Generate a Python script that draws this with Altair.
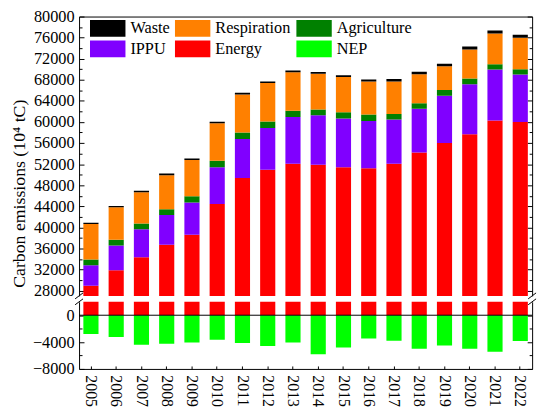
import altair as alt
import pandas as pd

years = [str(y) for y in range(2005, 2023)]
energy = [28900, 31850, 34350, 36700, 38600, 44450, 49350, 50950, 52050,
          51900, 51400, 51200, 52050, 54200, 56000, 57650, 60300, 60000]
ippu = [3900, 4700, 5300, 5650, 6100, 6950, 7400, 7900, 8900,
        9350, 9250, 9000, 8400, 8300, 8950, 9500, 9650, 9000]
agriculture = [1100, 1100, 1100, 1100, 1200, 1250, 1250, 1250, 1200,
               1100, 1200, 1200, 1050, 1050, 1100, 1100, 1000, 1000]
respiration = [6750, 6150, 5900, 6450, 6900, 7100, 7200, 7300, 7300,
               6800, 6700, 6300, 6200, 5500, 4500, 5500, 5850, 6000]
waste = [250, 250, 300, 300, 250, 300, 350, 300, 300,
         350, 300, 350, 450, 500, 500, 550, 550, 550]
nep = [-2800, -3250, -4400, -4250, -4050, -3650, -4150, -4600, -4050,
       -5800, -4800, -3450, -3800, -5000, -4500, -5000, -5450, -3850]

legend_order = ["Waste", "Respiration", "Agriculture", "IPPU", "Energy", "NEP"]
colors = ["#000000", "#FF8000", "#008000", "#8000FF", "#FF0000", "#00FF00"]
stack_order = {"Energy": 0, "IPPU": 1, "Agriculture": 2, "Respiration": 3, "Waste": 4, "NEP": 5}
series = {"Energy": energy, "IPPU": ippu, "Agriculture": agriculture,
          "Respiration": respiration, "Waste": waste, "NEP": nep}

rows = []
for cat, vals in series.items():
    for yr, v in zip(years, vals):
        rows.append({"year": yr, "category": cat, "value": v, "order": stack_order[cat]})
df = pd.DataFrame(rows)

FONT = "Liberation Serif"
YLAB, XLAB = 16.5, 16
W, HT, HB = 459, 283, 68
TOP_DOM = [27000, 80000]
BOT_DOM = [-8000, 2000]
top_major = list(range(28000, 80001, 4000))
top_minor = list(range(30000, 80000, 4000))
bot_major = [0, -4000, -8000]
bot_minor = [-2000, -6000]

xscale = alt.Scale(paddingInner=0.4, paddingOuter=0.17)


def bars(domain, xaxis, yaxis, legend):
    return alt.Chart(df).mark_bar(clip=True).encode(
        x=alt.X("year:N", sort=years, scale=xscale, axis=xaxis),
        y=alt.Y("value:Q", stack="zero",
                scale=alt.Scale(domain=domain, nice=False, zero=False), axis=yaxis),
        color=alt.Color("category:N",
                        scale=alt.Scale(domain=legend_order, range=colors),
                        legend=legend),
        order=alt.Order("order:Q"),
    )


def tick_layer(domain, orient, values, size, domain_line):
    d = pd.DataFrame({"v": [domain[0] + 100]})
    return alt.Chart(d).mark_point(opacity=0, clip=True).encode(
        y=alt.Y("v:Q", scale=alt.Scale(domain=domain, nice=False, zero=False),
                axis=alt.Axis(orient=orient, offset=-W, values=values, tickSize=size,
                              labels=False, ticks=True, domain=domain_line, grid=False,
                              title=None, tickColor="black", domainColor="black"))
    )


legend = alt.Legend(
    orient="none", legendX=11, legendY=2, columns=3, direction="horizontal", title=None,
    symbolType="M-1,-0.4722H1V0.4722H-1Z", symbolSize=1296,
    symbolStrokeWidth=0, symbolOpacity=1,
    labelFont=FONT, labelFontSize=16.5, labelColor="black", labelOffset=5,
    columnPadding=5, rowPadding=0.7, clipHeight=20, padding=0,
)

top_xaxis = alt.Axis(orient="top", labels=False, ticks=False, domain=True,
                     domainColor="black", title=None)
top_yaxis = alt.Axis(orient="left", values=top_major, format="d", ticks=False,
                     domain=True, domainColor="black", labelPadding=5,
                     labelFont=FONT, labelFontSize=YLAB, labelColor="black",
                     labelOverlap=False, grid=False,
                     title="Carbon emissions (10⁴ tC)", titleY=179, titlePadding=5,
                     titleFont=FONT, titleFontSize=18, titleFontWeight="normal",
                     titleColor="black")

top = alt.layer(
    bars(TOP_DOM, top_xaxis, top_yaxis, legend),
    tick_layer(TOP_DOM, "right", top_major, 5, False),
    tick_layer(TOP_DOM, "right", top_minor, 3, False),
    tick_layer(TOP_DOM, "left", top_major, 5, True),
    tick_layer(TOP_DOM, "left", top_minor, 3, False),
).resolve_scale(y="independent").properties(width=W, height=HT)

bot_xaxis = alt.Axis(orient="bottom", labelAngle=90, labelFont=FONT, labelFontSize=XLAB,
                     labelColor="black", labelPadding=6,
                     ticks=False, domain=True, domainColor="black", title=None)
bot_yaxis = alt.Axis(orient="left", values=bot_major, format="d", ticks=False,
                     domain=True, domainColor="black", labelPadding=5,
                     labelFont=FONT, labelFontSize=YLAB, labelColor="black",
                     labelOverlap=False, grid=False, title=None)

zero_rule = alt.Chart(pd.DataFrame({"v": [0]})).mark_rule(color="black", strokeWidth=1).encode(
    y=alt.Y("v:Q", scale=alt.Scale(domain=BOT_DOM, nice=False, zero=False), axis=None)
)

xticks = alt.Chart(pd.DataFrame({"year": years})).mark_point(opacity=0).encode(
    x=alt.X("year:N", sort=years, scale=xscale,
            axis=alt.Axis(orient="top", offset=-HB, labels=False, ticks=True, tickSize=3,
                          domain=False, title=None, tickColor="black"))
)

one = pd.DataFrame({"a": [0]})


def slash(x, y):
    return alt.Chart(one).mark_rule(color="black", strokeWidth=1).encode(
        x=alt.value(x - 4), x2=alt.value(x + 4), y=alt.value(y + 3), y2=alt.value(y - 3)
    )


bottom = alt.layer(
    bars(BOT_DOM, bot_xaxis, bot_yaxis, None),
    zero_rule,
    tick_layer(BOT_DOM, "right", bot_major, 5, False),
    tick_layer(BOT_DOM, "right", bot_minor, 3, False),
    tick_layer(BOT_DOM, "left", bot_major, 5, True),
    tick_layer(BOT_DOM, "left", bot_minor, 3, False),
    xticks,
    slash(0, -6), slash(0, 0), slash(W, -6), slash(W, 0),
).resolve_scale(y="independent").resolve_axis(x="independent").properties(width=W, height=HB)

chart = alt.vconcat(top, bottom, spacing=6, bounds="flush").resolve_scale(
    color="independent"
).configure_view(
    stroke=None
).configure_axis(
    labelFont=FONT, titleFont=FONT, labelFontSize=YLAB, titleFontSize=18,
    labelColor="black", titleColor="black", titleFontWeight="normal",
).properties(background="white", padding={"left": 2, "top": -2, "right": 5, "bottom": 5})

chart.save("out.html", embed_options={"renderer": "svg", "actions": False})
